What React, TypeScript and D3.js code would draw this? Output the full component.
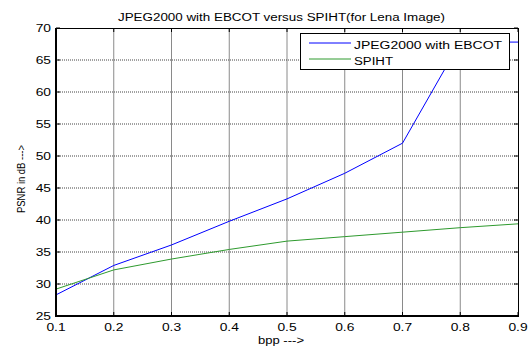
import * as d3 from 'd3';
import { useEffect, useRef } from 'react';

const bpp = [0.1, 0.2, 0.3, 0.4, 0.5, 0.6, 0.7, 0.8, 0.9];
const ebcot = [28.3, 32.9, 36.1, 39.8, 43.3, 47.3, 52.0, 67.8, 67.8];
const spiht = [29.2, 32.2, 33.9, 35.4, 36.7, 37.4, 38.1, 38.8, 39.4];
const xTicks = [0.1, 0.2, 0.3, 0.4, 0.5, 0.6, 0.7, 0.8, 0.9];
const yTicks = [25, 30, 35, 40, 45, 50, 55, 60, 65, 70];
const seriesNames = ['JPEG2000 with EBCOT', 'SPIHT'];
const seriesColors = ['#0000ff', '#2e9a2e'];

const W = 531;
const H = 348;
const margin = { top: 28, right: 13, bottom: 32, left: 56 };
const font = '"Liberation Sans", Arial, sans-serif';
const stretch = 1.38;

const App = () => {
    const ref = useRef<SVGSVGElement | null>(null);

    useEffect(() => {
        const svg = d3.select(ref.current!);
        svg.selectAll('*').remove();

        const x0 = margin.left, x1 = W - margin.right;
        const y0 = margin.top, y1 = H - margin.bottom;

        const xScale = d3.scaleLinear().domain([0.1, 0.9]).range([x0, x1]);
        const yScale = d3.scaleLinear().domain([25, 70]).range([y1, y0]);

        const g = svg.append('g');

        // grid
        g.selectAll('.vgrid')
            .data(xTicks.slice(1, -1))
            .enter()
            .append('line')
            .attr('x1', d => xScale(d)).attr('x2', d => xScale(d))
            .attr('y1', y0).attr('y2', y1)
            .attr('stroke', '#8a8a8a')
            .attr('stroke-width', 1);

        g.selectAll('.hgrid')
            .data(yTicks.slice(1, -1))
            .enter()
            .append('line')
            .attr('x1', x0).attr('x2', x1)
            .attr('y1', d => yScale(d)).attr('y2', d => yScale(d))
            .attr('stroke', '#444')
            .attr('stroke-width', 1)
            .attr('stroke-dasharray', '1,1');

        // ticks, pointing inward on all sides
        const tl = 4;
        xTicks.forEach(t => {
            const x = xScale(t);
            g.append('line').attr('x1', x).attr('x2', x).attr('y1', y1).attr('y2', y1 - tl).attr('stroke', '#000');
            g.append('line').attr('x1', x).attr('x2', x).attr('y1', y0).attr('y2', y0 + tl).attr('stroke', '#000');
        });
        yTicks.forEach(t => {
            const y = yScale(t);
            g.append('line').attr('x1', x0).attr('x2', x0 + tl).attr('y1', y).attr('y2', y).attr('stroke', '#000');
            g.append('line').attr('x1', x1).attr('x2', x1 - tl).attr('y1', y).attr('y2', y).attr('stroke', '#000');
        });

        // series
        const line = d3.line<number>()
            .x((_, i) => xScale(bpp[i]))
            .y(d => yScale(d));

        [ebcot, spiht].forEach((data, i) => {
            g.append('path')
                .datum(data)
                .attr('d', line)
                .attr('fill', 'none')
                .attr('stroke', seriesColors[i])
                .attr('stroke-width', 1);
        });

        // axes box
        g.append('line').attr('x1', x0).attr('x2', x1).attr('y1', y0 + 0.5).attr('y2', y0 + 0.5).attr('stroke', '#000');
        g.append('line').attr('x1', x1 + 0.5).attr('x2', x1 + 0.5).attr('y1', y0).attr('y2', y1).attr('stroke', '#000');
        g.append('line').attr('x1', x0).attr('x2', x0).attr('y1', y0).attr('y2', y1 + 1).attr('stroke', '#000').attr('stroke-width', 2);
        g.append('line').attr('x1', x0 - 1).attr('x2', x1 + 1).attr('y1', y1).attr('y2', y1).attr('stroke', '#000').attr('stroke-width', 2);

        // tick labels
        xTicks.forEach(t => {
            g.append('text')
                .attr('transform', `translate(${xScale(t)},${y1 + 15}) scale(${stretch},1)`)
                .attr('text-anchor', 'middle')
                .attr('font-family', font)
                .attr('font-size', 10)
                .text(d3.format('.1f')(t));
        });
        yTicks.forEach(t => {
            g.append('text')
                .attr('transform', `translate(${x0 - 5},${yScale(t) + 3.6}) scale(${stretch},1)`)
                .attr('text-anchor', 'end')
                .attr('font-family', font)
                .attr('font-size', 10)
                .text(t);
        });

        // title and axis labels
        g.append('text')
            .attr('x', 118).attr('y', 21)
            .attr('font-family', font).attr('font-size', 10)
            .attr('textLength', 327).attr('lengthAdjust', 'spacingAndGlyphs')
            .text('JPEG2000 with EBCOT versus SPIHT(for Lena Image)');

        g.append('text')
            .attr('x', 258).attr('y', 344)
            .attr('font-family', font).attr('font-size', 10)
            .attr('textLength', 46).attr('lengthAdjust', 'spacingAndGlyphs')
            .text('bpp --->');

        g.append('text')
            .attr('transform', 'translate(25,213) rotate(-90)')
            .attr('font-family', font).attr('font-size', 10)
            .attr('textLength', 68).attr('lengthAdjust', 'spacingAndGlyphs')
            .text('PSNR in dB --->');

        // legend
        const lg = g.append('g');
        lg.append('rect')
            .attr('x', 300.5).attr('y', 33.5)
            .attr('width', 209).attr('height', 36)
            .attr('fill', '#fff')
            .attr('stroke', '#000');
        const legendLens = [148, 39];
        seriesNames.forEach((name, i) => {
            const ly = 43 + i * 16;
            lg.append('line')
                .attr('x1', 309).attr('x2', 351)
                .attr('y1', ly).attr('y2', ly)
                .attr('stroke', seriesColors[i]);
            lg.append('text')
                .attr('x', 354).attr('y', ly + 6)
                .attr('font-family', font).attr('font-size', 10)
                .attr('textLength', legendLens[i]).attr('lengthAdjust', 'spacingAndGlyphs')
                .text(name);
        });
    }, []);

    return (
        <svg ref={ref} width={W} height={H}
            style={{ position: 'absolute', left: 0, top: 0, background: '#fff' }} />
    );
};

export default App;
